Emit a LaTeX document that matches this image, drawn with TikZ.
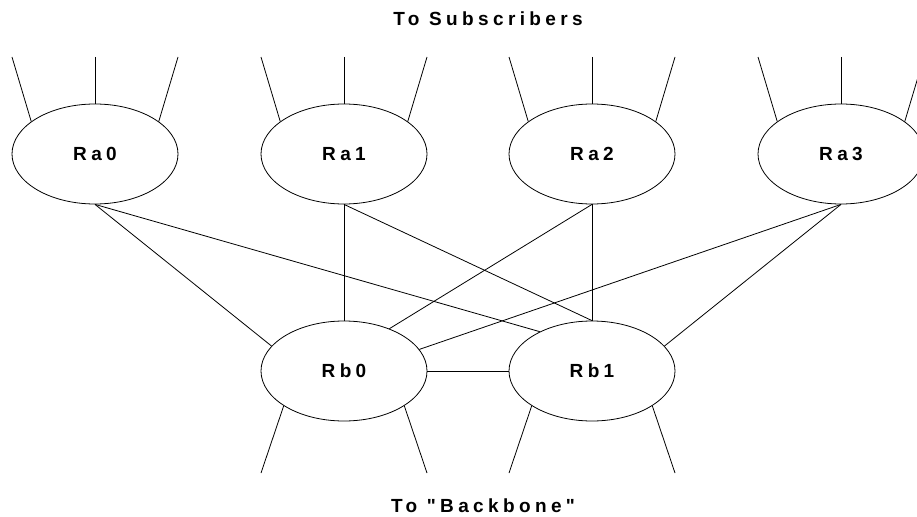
\documentclass[tikz,border=0pt]{standalone}
\usepackage{fontspec}
\setmainfont{Liberation Sans}
\newfontfamily\lblfont{Liberation Sans Bold}[LetterSpace=23]
\usetikzlibrary{shapes.geometric}
\begin{document}
\begin{tikzpicture}[x=1pt,y=-1pt,
  router/.style={draw, ellipse, line width=0.8pt, minimum width=166pt,
    minimum height=100pt, inner sep=0pt,
    font=\lblfont\fontsize{19}{22}\selectfont},
  link/.style={line width=0.8pt},
  caption/.style={anchor=base, inner sep=0pt,
    font=\lblfont\fontsize{19}{22}\selectfont}]
\clip (0,0) rectangle (917,516);
\fill[white] (0,0) rectangle (917,516);

% access routers
\node[router] (Ra0) at (95,154)  {Ra0};
\node[router] (Ra1) at (344,154) {Ra1};
\node[router] (Ra2) at (592,154) {Ra2};
\node[router] (Ra3) at (841,154) {Ra3};

% backbone routers
\node[router] (Rb0) at (344,371) {Rb0};
\node[router] (Rb1) at (592,371) {Rb1};

% subscriber lines
\foreach \n/\x in {Ra0/95,Ra1/344,Ra2/592,Ra3/841} {
  \coordinate (\n-tl) at (\x-83,57);
  \coordinate (\n-tm) at (\x,57);
  \coordinate (\n-tr) at (\x+83,57);
  \draw[link] (\n-tl) -- (\n.153);
  \draw[link] (\n-tm) -- (\n.north);
  \draw[link] (\n-tr) -- (\n.27);
}

% uplinks
\draw[link] (Ra0.south) -- (Rb0.161);
\draw[link] (Ra0.south) -- (Rb1.143);
\draw[link] (Ra1.south) -- (Rb0.north);
\draw[link] (Ra1.south) -- (Rb1.north);
\draw[link] (Ra2.south) -- (Rb0.43);
\draw[link] (Ra2.south) -- (Rb1.north);
\draw[link] (Ra3.south) -- (Rb0.16);
\draw[link] (Ra3.south) -- (Rb1.19);
\draw[link] (Rb0.east) -- (Rb1.west);

% backbone lines
\foreach \n/\x in {Rb0/344,Rb1/592} {
  \coordinate (\n-bl) at (\x-83,473);
  \coordinate (\n-br) at (\x+83,473);
  \draw[link] (\n.210) -- (\n-bl);
  \draw[link] (\n.330) -- (\n-br);
}

\node[caption] (top) at (488,26) {To Subscribers};
\node[caption] (bottom) at (483,512) {To "Backbone"};
\end{tikzpicture}
\end{document}
